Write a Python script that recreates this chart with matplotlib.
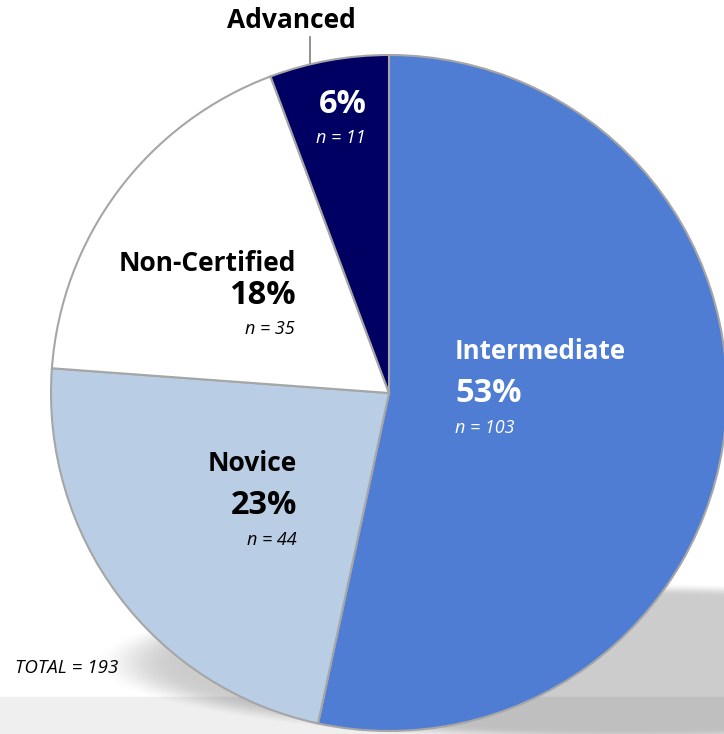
"""Certification level breakdown pie, drawn in pixel coordinates of the original slide."""

import matplotlib

matplotlib.use("Agg")
import matplotlib.pyplot as plt
import numpy as np
from matplotlib.patches import Rectangle

LEVELS = ["Intermediate", "Novice", "Non-Certified", "Advanced"]
COUNTS = [103, 44, 35, 11]
COLORS = ["#4e7dd3", "#b9cde5", "#ffffff", "#000063"]
TOTAL = sum(COUNTS)

W, H = 724, 734
CENTER = (389, H - 393)
RADIUS = 338

plt.rcParams["font.family"] = ["Open Sans", "DejaVu Sans"]

fig = plt.figure(figsize=(W / 100, H / 100), dpi=100)
ax = fig.add_axes([0, 0, 1, 1])

# light floor band and soft shadow under the pie
ax.add_patch(Rectangle((0, 0), W, H - 697, color="#efefef", zorder=0))
yy, xx = np.mgrid[0:H, 0:W]
d = ((xx - 625) / 535.0) ** 2 + ((yy - 662) / 80.0) ** 2
shade = np.clip((1.0 - d) / 0.3, 0, 1)
shade = shade * shade * (3 - 2 * shade)
rgba = np.zeros((H, W, 4))
rgba[..., 3] = 0.2 * shade
ax.imshow(rgba, extent=(0, W, 0, H), origin="upper", zorder=1)

wedges, _ = ax.pie(
    COUNTS,
    colors=COLORS,
    startangle=90,
    counterclock=False,
    center=CENTER,
    radius=RADIUS,
    wedgeprops=dict(edgecolor="#a6a6a6", linewidth=1.5),
    frame=True,
)
for w in wedges:
    w.set_zorder(2)
ax.set_xlim(0, W)
ax.set_ylim(0, H)
ax.set_aspect("equal")
ax.axis("off")

pct = [round(100 * c / TOTAL) for c in COUNTS]


def label(x, base, text, color, size, ha, bold=False, italic=False):
    ax.text(x, H - base, text, color=color, fontsize=size,
            fontweight="bold" if bold else "normal",
            style="italic" if italic else "normal",
            ha=ha, va="baseline", zorder=5)


# Intermediate
label(455, 359, LEVELS[0], "white", 18.6, "left", bold=True)
label(455, 402, f"{pct[0]}%", "white", 23.5, "left", bold=True)
label(455, 433, f"n = {COUNTS[0]}", "white", 13, "left", italic=True)

# Novice
label(297, 471, LEVELS[1], "black", 19, "right", bold=True)
label(297, 514, f"{pct[1]}%", "black", 23.5, "right", bold=True)
label(297, 545, f"n = {COUNTS[1]}", "black", 13, "right", italic=True)

# Non-Certified
label(296, 271, LEVELS[2], "black", 19, "right", bold=True)
label(296, 304, f"{pct[2]}%", "black", 23.5, "right", bold=True)
label(295, 334, f"n = {COUNTS[2]}", "black", 13, "right", italic=True)

# Advanced, label outside with a leader line
label(291, 28, LEVELS[3], "black", 19, "center", bold=True)
ax.plot([310, 310], [H - 37, H - 63], color="#7f7f7f", linewidth=1.2, zorder=5)
label(367, 113, f"{pct[3]}%", "white", 23.5, "right", bold=True)
label(366, 143, f"n = {COUNTS[3]}", "white", 13, "right", italic=True)

label(15, 673, f"TOTAL = {TOTAL}", "black", 13.5, "left", italic=True)

fig.savefig("out.png", dpi=100)
plt.close(fig)
